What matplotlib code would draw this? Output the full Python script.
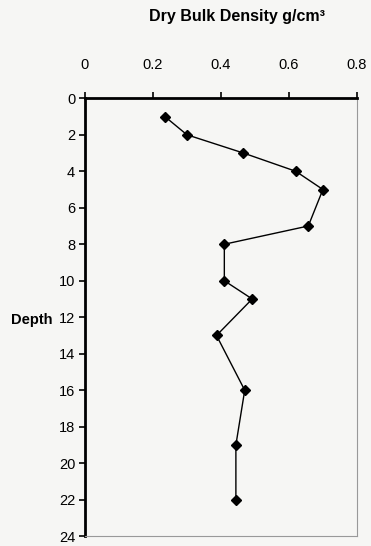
import matplotlib
matplotlib.use('Agg')
import matplotlib.pyplot as plt

# depth (cm) and dry bulk density (g/cm3)
depth = [1, 2, 3, 4, 5, 7, 8, 10, 11, 13, 16, 19, 22]
density = [0.235, 0.30, 0.466, 0.62, 0.70, 0.657, 0.41, 0.41, 0.492, 0.387, 0.47, 0.444, 0.444]
x_ticks = [0, 0.2, 0.4, 0.6, 0.8]
y_ticks = list(range(0, 25, 2))

bg = '#f6f6f4'
plt.rcParams['font.family'] = ['Liberation Sans', 'DejaVu Sans']

fig = plt.figure(figsize=(3.71, 5.46), dpi=100, facecolor=bg)
ax = fig.add_axes([0.229, 0.018, 0.733, 0.802])
ax.set_facecolor(bg)

ax.plot(density, depth, color='black', lw=1.0, marker='D', ms=5.5,
        mfc='black', mec='black')

ax.set_xlim(0, 0.8)
ax.set_ylim(24, 0)
ax.set_xticks(x_ticks)
ax.set_xticklabels(['0', '0.2', '0.4', '0.6', '0.8'])
ax.set_yticks(y_ticks)
ax.xaxis.tick_top()
ax.tick_params(axis='both', labelsize=10.5, color='black', length=4, width=1.2)
ax.tick_params(axis='x', direction='out', pad=15)
ax.tick_params(axis='y', direction='out', pad=3)

ax.spines['left'].set_linewidth(2.0)
ax.spines['top'].set_linewidth(2.0)
ax.spines['right'].set_linewidth(0.8)
ax.spines['right'].set_color('#999999')
ax.spines['bottom'].set_linewidth(0.8)
ax.spines['bottom'].set_color('#999999')

fig.text(0.638, 0.97, 'Dry Bulk Density g/cm\u00b3', ha='center', va='center',
         fontsize=11.5, fontweight='bold')
fig.text(0.03, 0.414, 'Depth', ha='left', va='center', fontsize=10.5,
         fontweight='bold')

fig.savefig('out.png', dpi=100, facecolor=bg)
